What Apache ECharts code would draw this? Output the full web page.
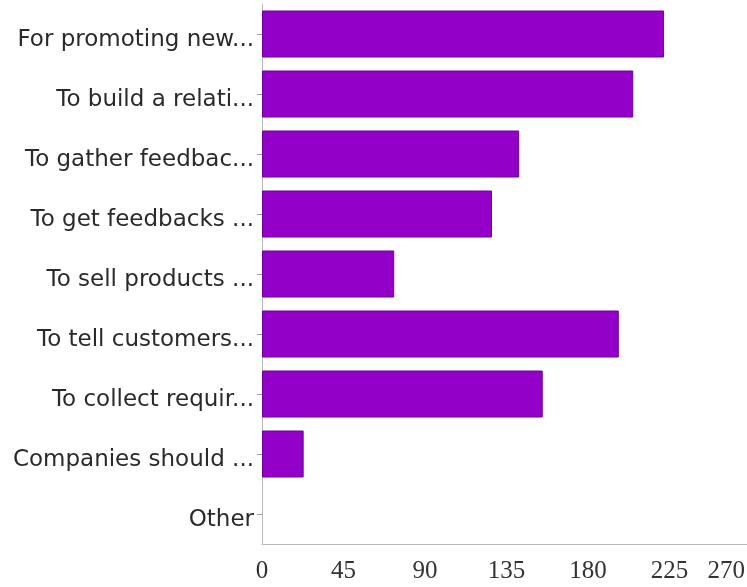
<!DOCTYPE html>
<html>
<head>
<meta charset="utf-8">
<title>Reasons</title>
<script src="https://cdn.jsdelivr.net/npm/echarts@6/dist/echarts.min.js"></script>
<style>
  html, body { margin: 0; padding: 0; background: #ffffff; }
  #chart { width: 747px; height: 587px; }
</style>
</head>
<body>
<div id="chart"></div>
<script>
// Survey answers, top to bottom
const categories = [
  'For promoting new...',
  'To build a relati...',
  'To gather feedbac...',
  'To get feedbacks ...',
  'To sell products ...',
  'To tell customers...',
  'To collect requir...',
  'Companies should ...',
  'Other'
];
// Number of respondents per answer
const counts = [222, 205, 142, 127, 73, 197, 155, 23, 0];
// Horizontal axis scale
const axisMin = 0;
const axisMax = 270;
const axisStep = 45;

const tickFont = { color: '#333333', fontFamily: 'Liberation Serif', fontSize: 25 };

const chart = echarts.init(document.getElementById('chart'));
chart.setOption({
  animation: false,
  backgroundColor: '#ffffff',
  grid: {
    left: 262, width: 489, top: 4, bottom: 43,
    containLabel: false,
    outerBoundsMode: 'none'
  },
  xAxis: {
    type: 'value',
    min: axisMin,
    max: axisMax,
    interval: axisStep,
    splitLine: { show: false },
    axisTick: { show: false },
    axisLine: { show: true, lineStyle: { color: '#b8b8b8', width: 1 } },
    axisLabel: Object.assign({}, tickFont, {
      margin: 15,
      alignMaxLabel: 'right',
      // keep the last label inside the canvas edge
      formatter: v => (v === axisMax ? '{last|' + v + '}' : String(v)),
      rich: { last: Object.assign({}, tickFont, { padding: [0, 6, 0, 0] }) }
    })
  },
  yAxis: {
    type: 'category',
    data: categories,
    inverse: true,
    axisLine: { show: true, lineStyle: { color: '#b8b8b8', width: 1 } },
    axisTick: { show: true, alignWithLabel: true, length: 5, lineStyle: { color: '#9a9a9a' } },
    axisLabel: {
      color: '#2a2a2a',
      fontFamily: 'DejaVu Sans',
      fontSize: 23,
      margin: 8,
      verticalAlign: 'top',
      lineHeight: 12
    }
  },
  series: [{
    type: 'bar',
    data: counts.map(v => ({ value: v, itemStyle: v === 0 ? { borderWidth: 0 } : {} })),
    barWidth: 47,
    itemStyle: {
      color: '#9300c8',
      borderColor: '#6e0096',
      borderWidth: 1
    }
  }]
});
</script>
</body>
</html>
